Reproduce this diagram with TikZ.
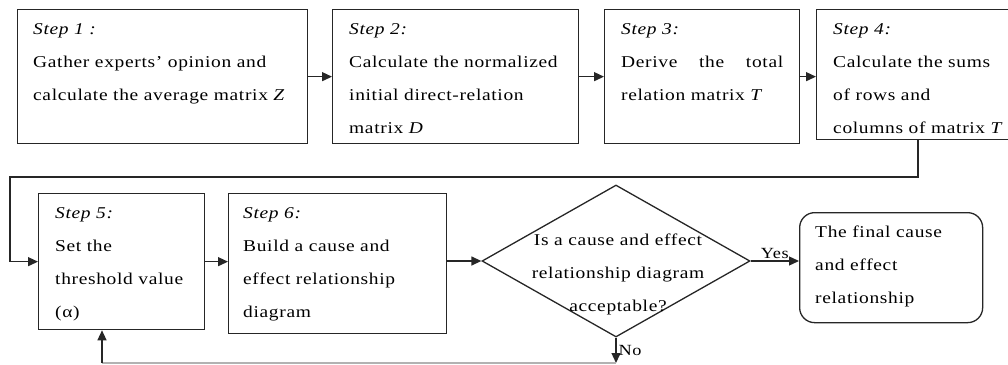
\documentclass[tikz,border=0pt]{standalone}
\usepackage{fontspec}
\setmainfont{Liberation Serif}[FakeStretch=1.18, LetterSpace=4]
\usetikzlibrary{arrows.meta,shapes.geometric}
\tikzset{
  stepbox/.style={draw=black!85, line width=1.3pt, inner sep=0pt, anchor=north west},
  txt/.style={anchor=north west, inner sep=0pt, align=left, font=\fontsize{16.5}{33}\selectfont},
  arr/.style={draw=black!85, line width=1.3pt, -{Triangle[length=10pt,width=9pt]}},
  ln/.style={draw=black!85, line width=1.3pt},
}
\begin{document}
\begin{tikzpicture}[x=1pt,y=-1pt]
\useasboundingbox (0,0) rectangle (1008,364);
% boxes
\node[stepbox, minimum width=290, minimum height=134] (b1) at (17,9) {};
\node[stepbox, minimum width=246, minimum height=134] (b2) at (332,9) {};
\node[stepbox, minimum width=195, minimum height=134] (b3) at (604,9) {};
\node[stepbox, minimum width=200, minimum height=130] (b4) at (816,9) {};
\node[stepbox, minimum width=166, minimum height=136] (b5) at (38,193) {};
\node[stepbox, minimum width=218, minimum height=140] (b6) at (228,193) {};
\node[draw=black!85, line width=1.3pt, diamond, inner sep=0pt, minimum width=268, minimum height=152] (dec) at (616,261) {};
\node[stepbox, rounded corners=15pt, minimum width=183, minimum height=110] (fin) at (799,212) {};
% texts
\node[txt] (t1) at (33,11) {\strut\textit{Step 1 :}\\Gather experts' opinion and\\calculate the average matrix \textit{Z}};
\node[txt] (t2) at (349,11) {\strut\textit{Step 2:}\\Calculate the normalized\\initial direct-relation\\matrix \textit{D}};
\node[txt] (t3) at (621,11) {\strut\textit{Step 3:}\\\makebox[162pt][s]{Derive\hfill the\hfill total}\\relation matrix \textit{T}};
\node[txt] (t4) at (833,11) {\strut\textit{Step 4:}\\Calculate the sums\\of rows and\\columns of matrix \textit{T}};
\node[txt] (t5) at (55,195) {\strut\textit{Step 5:}\\Set the\\threshold value\\(α)};
\node[txt] (t6) at (243,195) {\strut\textit{Step 6:}\\Build a cause and\\effect relationship\\diagram};
\node[txt, anchor=north, align=center] (td) at (618,222) {\strut Is a cause and effect\\relationship diagram\\acceptable?};
\node[txt] (tf) at (815,214) {\strut The final cause\\and effect\\relationship};
% connectors
\draw[arr] (b1.east) -- (b2.west);
\draw[arr] (b2.east) -- (b3.west);
\draw[arr] (b3.east) -- (b4.west |- b3.east);
\coordinate (c1) at (918,177);
\coordinate (c2) at (10,177);
\draw[arr] (b4.south -| c1) -- (c1) -- (c2) |- (b5.west);
\draw[arr] (b5.east) -- (b6.west |- b5.east);
\draw[arr] (b6.east |- dec.west) -- (dec.west);
\draw[arr] (dec.east) -- node[above, inner sep=2pt, font=\fontsize{15.5}{18}\selectfont] (yes) {Yes} (fin.west |- dec.east);
\coordinate (c3) at (616,363);
\coordinate (c4) at (102,363);
\draw[arr] (dec.south) -- node[right, inner sep=2pt, font=\fontsize{15.5}{18}\selectfont] (no) {No} (c3);
\draw[ln, draw=black!30] (c3) -- (c4);
\draw[arr] (c4) -- (b5.south -| c4);
\end{tikzpicture}
\end{document}
